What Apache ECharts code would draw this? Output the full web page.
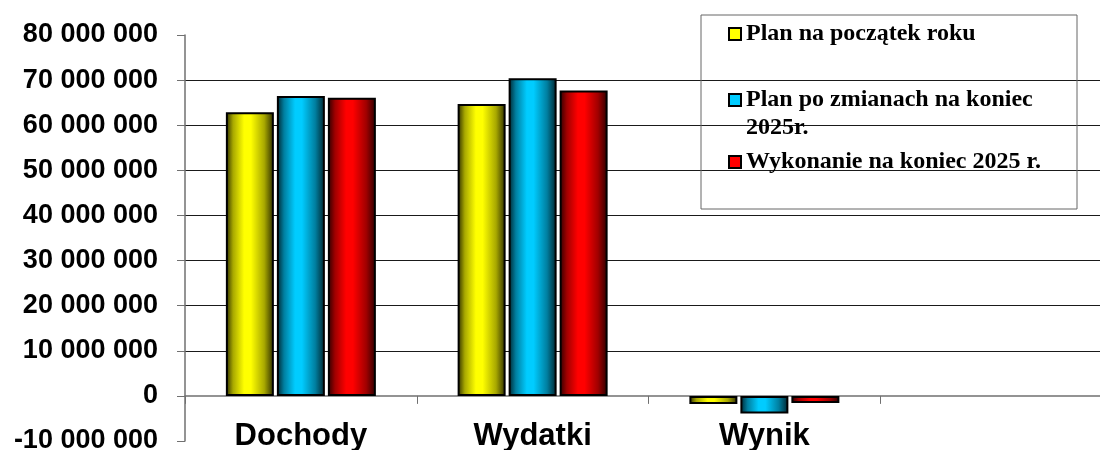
<!DOCTYPE html>
<html>
<head>
<meta charset="utf-8">
<script src="https://cdn.jsdelivr.net/npm/echarts@6/dist/echarts.min.js"></script>
<style>
html,body{margin:0;padding:0;background:#fff;}
#chart{width:1100px;height:450px;}
</style>
</head>
<body>
<div id="chart"></div>
<script>
const categories = ['Dochody', 'Wydatki', 'Wynik', ''];
const seriesNames = ['Plan na początek roku', 'Plan po zmianach na koniec 2025r.', 'Wykonanie na koniec 2025 r.'];
const planStart = [62900000, 64700000, -1800000, null];
const planChanged = [66500000, 70400000, -3900000, null];
const execution = [66100000, 67700000, -1600000, null];
const yMin = -10000000, yMax = 80000000, yInterval = 10000000;

const baseColors = ['#ffff00', '#00ccff', '#ff0000'];
const darkColors = ['#2a2a00', '#00232c', '#2a0000'];
const midDark = ['#a8a800', '#007fa0', '#a00000'];

function grad(i) {
  return new echarts.graphic.LinearGradient(0, 0, 1, 0, [
    {offset: 0, color: darkColors[i]},
    {offset: 0.15, color: midDark[i]},
    {offset: 0.38, color: baseColors[i]},
    {offset: 0.52, color: baseColors[i]},
    {offset: 0.8, color: midDark[i]},
    {offset: 1, color: darkColors[i]}
  ]);
}

function fmt(v) {
  const s = String(Math.abs(v)).replace(/\B(?=(\d{3})+(?!\d))/g, ' ');
  return (v < 0 ? '-' : '') + s;
}

const chart = echarts.init(document.getElementById('chart'));
const datasets = [planStart, planChanged, execution];

const splitColors = [];
for (let v = yMin; v <= yMax; v += yInterval) {
  splitColors.push((v <= 0 || v >= yMax) ? 'rgba(0,0,0,0)' : '#1a1a1a');
}

const legendTops = [20, 58, 148];
const legends = seriesNames.map((n, i) => ({
  show: true,
  data: [n],
  left: 728,
  top: legendTops[i],
  padding: 0,
  icon: 'rect',
  itemWidth: 12,
  itemHeight: 12,
  itemStyle: {color: baseColors[i], borderColor: '#000', borderWidth: 2},
  formatter: function (name) {
    return name === seriesNames[1] ? '\nPlan po zmianach na koniec\n2025r.' : name;
  },
  textStyle: {
    fontFamily: 'Liberation Serif',
    fontWeight: 'bold',
    fontSize: 24,
    color: '#000',
    lineHeight: 28
  },
  selectedMode: false
}));

chart.setOption({
  animation: false,
  backgroundColor: '#fff',
  grid: {left: 185, right: -12, top: 35, bottom: 9, containLabel: false, outerBoundsMode: 'none'},
  legend: legends,
  graphic: [{
    type: 'rect',
    shape: {x: 701, y: 15, width: 376, height: 194},
    style: {fill: 'none', stroke: '#666', lineWidth: 1},
    z: 100
  }],
  xAxis: {
    type: 'category',
    data: categories,
    axisLine: {onZero: true, lineStyle: {color: '#707070', width: 1.5}},
    axisTick: {show: true, alignWithLabel: false, length: 8, lineStyle: {color: '#707070', width: 1}},
    axisLabel: {
      color: '#000', fontFamily: 'Liberation Sans', fontWeight: 'bold',
      fontSize: 31, lineHeight: 31, margin: -20, hideOverlap: false
    },
    splitLine: {show: false}
  },
  yAxis: {
    type: 'value',
    min: yMin, max: yMax, interval: yInterval,
    axisLine: {show: true, lineStyle: {color: '#707070', width: 1.5}},
    axisTick: {show: true, length: 8, lineStyle: {color: '#707070'}},
    axisLabel: {
      color: '#000', fontFamily: 'Liberation Sans', fontWeight: 'bold',
      fontSize: 27, margin: 27, formatter: fmt
    },
    splitLine: {show: true, lineStyle: {color: splitColors, width: 1}}
  },
  series: datasets.map((d, i) => ({
    name: seriesNames[i],
    type: 'bar',
    data: d,
    barWidth: 48,
    barGap: '6.25%',
    itemStyle: {color: grad(i), borderColor: '#000', borderWidth: 2}
  }))
});
</script>
</body>
</html>
